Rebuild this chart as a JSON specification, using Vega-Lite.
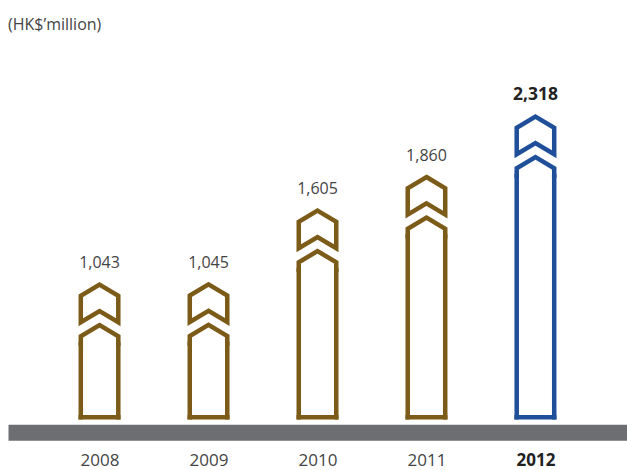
{
  "$schema": "https://vega.github.io/schema/vega-lite/v6.json",
  "width": 619,
  "height": 379.5,
  "autosize": {"type": "none"},
  "padding": {"left": 8, "top": 40, "right": 0, "bottom": 50.5},
  "background": "white",
  "title": {
    "text": "(HK$’million)",
    "anchor": "start",
    "frame": "group",
    "offset": -6,
    "baseline": "alphabetic",
    "font": "Open Sans",
    "fontSize": 16,
    "fontWeight": "normal",
    "color": "#444444"
  },
  "data": {
    "values": [
      {"year": "2008", "value": 1043},
      {"year": "2009", "value": 1045},
      {"year": "2010", "value": 1605},
      {"year": "2011", "value": 1860},
      {"year": "2012", "value": 2318}
    ]
  },
  "encoding": {
    "x": {
      "field": "year",
      "type": "ordinal",
      "scale": {"type": "point", "padding": 0.84},
      "axis": {
        "title": null,
        "ticks": false,
        "tickSize": 0,
        "domainColor": "#6d6e71",
        "domainWidth": 16,
        "domainCap": "butt",
        "offset": 12.7,
        "labelAngle": 0,
        "labelBaseline": "alphabetic",
        "labelPadding": 33,
        "labelFont": "Open Sans",
        "labelFontSize": 17,
        "labelColor": {"condition": {"test": "datum.value == '2012'", "value": "#222222"}, "value": "#444444"},
        "labelFontWeight": {"condition": {"test": "datum.value == '2012'", "value": "bold"}, "value": "normal"}
      }
    },
    "y": {
      "field": "value",
      "type": "quantitative",
      "scale": {"domain": [0, 2880], "nice": false},
      "axis": null
    },
    "stroke": {
      "field": "year",
      "type": "nominal",
      "scale": {"domain": ["2008", "2009", "2010", "2011", "2012"], "range": ["#7b5b17", "#7b5b17", "#7b5b17", "#7b5b17", "#1f4f99"]},
      "legend": null
    }
  },
  "layer": [
    {
      "mark": {"type": "rule", "xOffset": -18.75, "yOffset": 62, "y2Offset": -2.25, "strokeWidth": 4.5, "strokeCap": "square"},
      "encoding": {"y2": {"datum": 0}}
    },
    {
      "mark": {"type": "rule", "xOffset": 18.75, "yOffset": 62, "y2Offset": -2.25, "strokeWidth": 4.5, "strokeCap": "square"},
      "encoding": {"y2": {"datum": 0}}
    },
    {
      "mark": {"type": "rule", "xOffset": -18.75, "x2Offset": 18.75, "yOffset": -2.25, "strokeWidth": 4.5, "strokeCap": "square"},
      "encoding": {"x2": {"field": "year"}, "y": {"datum": 0}}
    },
    {
      "mark": {
        "type": "point",
        "shape": "M0,2.6L18.75,13.8L18.75,40.2L0,29L-18.75,40.2L-18.75,13.8Z M-18.75,64L-18.75,54.3L0,43.1L18.75,54.3L18.75,64",
        "size": 4,
        "filled": false,
        "fill": null,
        "opacity": 1,
        "strokeWidth": 4.5,
        "strokeJoin": "miter"
      }
    },
    {
      "transform": [{"filter": "datum.year != '2012'"}],
      "mark": {"type": "text", "baseline": "alphabetic", "align": "center", "yOffset": -13.7, "font": "Open Sans", "fontSize": 16, "fontWeight": "normal", "color": "#444444"},
      "encoding": {
        "text": {"field": "value", "type": "quantitative", "format": ","},
        "stroke": {"value": null}
      }
    },
    {
      "transform": [{"filter": "datum.year == '2012'"}],
      "mark": {"type": "text", "baseline": "alphabetic", "align": "center", "yOffset": -13.7, "font": "Open Sans", "fontSize": 17.5, "fontWeight": "bold", "color": "#222222"},
      "encoding": {
        "text": {"field": "value", "type": "quantitative", "format": ","},
        "stroke": {"value": null}
      }
    }
  ],
  "config": {
    "view": {"stroke": null}
  }
}
